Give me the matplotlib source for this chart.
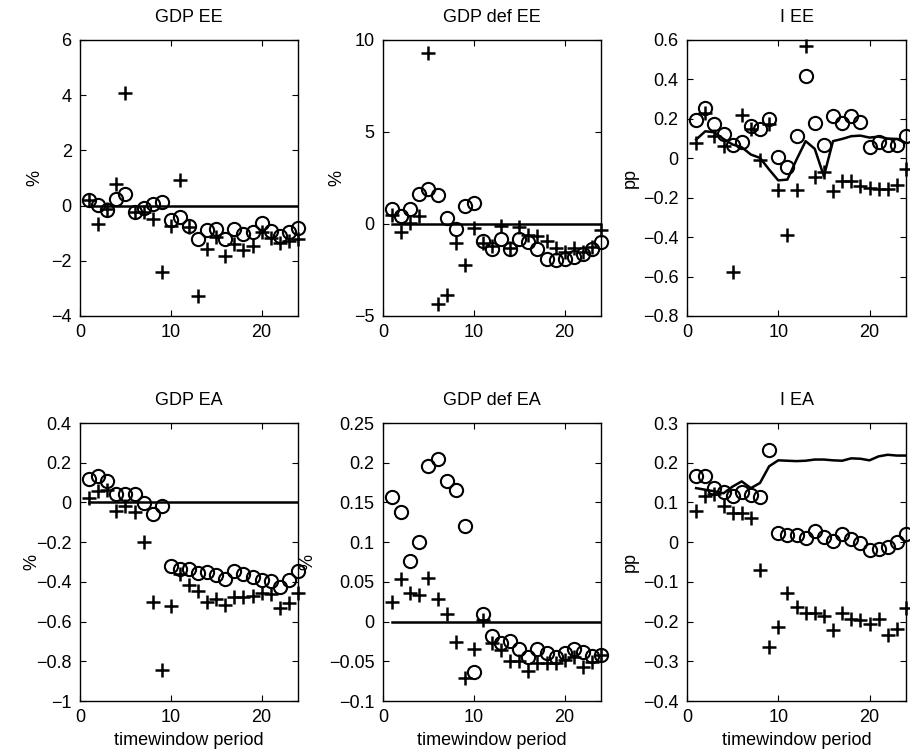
import numpy as np
import matplotlib
matplotlib.use("Agg")
import matplotlib.pyplot as plt
from matplotlib.ticker import FuncFormatter

plt.rcParams['font.family'] = ['Liberation Sans', 'DejaVu Sans']

periods = np.arange(1, 25)

# ---- GDP EE ----
gdp_ee_circ = [0.20, 0.02, -0.15, 0.23, 0.41, -0.22, -0.10, 0.06, 0.14, -0.52, -0.42, -0.74,
               -1.21, -0.90, -0.86, -1.21, -0.86, -1.04, -0.94, -0.64, -0.92, -1.10, -0.97, -0.82]
gdp_ee_plus = [0.20, -0.66, -0.13, 0.80, 4.07, -0.24, -0.22, -0.48, -2.39, -0.74, 0.93, -0.76,
               -3.27, -1.57, -1.12, -1.81, -1.40, -1.60, -1.45, -0.97, -1.18, -1.36, -1.27, -1.22]
gdp_ee_line = [0.0] * 24

# ---- GDP def EE ----
gdpdef_ee_circ = [0.80, 0.43, 0.80, 1.61, 1.90, 1.58, 0.31, -0.29, 1.00, 1.16, -0.92, -1.38,
                  -0.83, -1.38, -0.83, -1.00, -1.38, -1.90, -1.96, -1.90, -1.78, -1.63, -1.38, -1.00]
gdpdef_ee_plus = [0.49, -0.45, 0.07, 0.43, 9.31, -4.35, -3.86, -1.05, -2.23, -0.24, -1.01, -1.20,
                  -0.09, -1.32, -0.14, -0.60, -0.63, -0.92, -1.32, -1.54, -1.32, -1.54, -1.23, -0.33]
gdpdef_ee_line = [0.0] * 24

# ---- I EE ----
i_ee_circ = [0.193, 0.256, 0.176, 0.124, 0.066, 0.081, 0.166, 0.151, 0.197, 0.005, -0.046, 0.112,
             0.417, 0.180, 0.068, 0.214, 0.180, 0.217, 0.185, 0.056, 0.081, 0.066, 0.066, 0.112]
i_ee_plus = [0.075, 0.230, 0.112, 0.061, -0.578, 0.219, 0.151, -0.007, 0.176, -0.159, -0.388, -0.159,
             0.569, -0.097, -0.071, -0.168, -0.117, -0.114, -0.142, -0.151, -0.156, -0.156, -0.134, -0.053]
i_ee_line = [0.095, 0.137, 0.132, 0.098, 0.070, 0.056, 0.019, 0.002, -0.057, -0.112, -0.108, -0.007,
             0.087, 0.048, -0.091, 0.087, 0.098, 0.112, 0.115, 0.105, 0.110, 0.100, 0.098, 0.078]

# ---- GDP EA ----
gdp_ea_circ = [0.118, 0.131, 0.106, 0.042, 0.042, 0.042, -0.003, -0.059, -0.017, -0.318, -0.334, -0.336,
               -0.356, -0.351, -0.365, -0.385, -0.343, -0.361, -0.378, -0.393, -0.398, -0.424, -0.390, -0.343]
gdp_ea_plus = [0.022, 0.060, 0.064, -0.045, -0.020, -0.049, -0.197, -0.499, -0.844, -0.524, -0.361, -0.415,
               -0.445, -0.503, -0.486, -0.516, -0.477, -0.474, -0.471, -0.457, -0.462, -0.533, -0.504, -0.457]
gdp_ea_line = [0.0] * 24

# ---- GDP def EA ----
gdpdef_ea_circ = [0.157, 0.138, 0.076, 0.100, 0.196, 0.205, 0.177, 0.166, 0.120, -0.064, 0.010, -0.018,
                  -0.027, -0.024, -0.035, -0.045, -0.035, -0.039, -0.045, -0.040, -0.035, -0.038, -0.043, -0.042]
gdpdef_ea_plus = [0.025, 0.053, 0.036, 0.034, 0.055, 0.029, 0.009, -0.026, -0.071, -0.034, 0.002, -0.027,
                  -0.036, -0.050, -0.050, -0.062, -0.052, -0.052, -0.052, -0.048, -0.045, -0.057, -0.051, -0.042]
gdpdef_ea_line = [0.0] * 24

# ---- I EA ----
i_ea_circ = [0.166, 0.166, 0.136, 0.126, 0.115, 0.126, 0.119, 0.113, 0.231, 0.023, 0.017, 0.017,
             0.010, 0.029, 0.012, 0.003, 0.021, 0.008, -0.003, -0.019, -0.017, -0.011, 0.000, 0.021]
i_ea_plus = [0.079, 0.115, 0.121, 0.092, 0.073, 0.073, 0.061, -0.070, -0.265, -0.213, -0.129, -0.164,
             -0.179, -0.179, -0.186, -0.221, -0.179, -0.194, -0.196, -0.206, -0.194, -0.234, -0.218, -0.165]
i_ea_line = [0.136, 0.132, 0.128, 0.123, 0.140, 0.153, 0.136, 0.149, 0.191, 0.206, 0.205, 0.204,
             0.205, 0.208, 0.208, 0.206, 0.205, 0.211, 0.210, 0.206, 0.216, 0.220, 0.218, 0.218]

panels = [
    ("GDP EE", "%", gdp_ee_circ, gdp_ee_plus, gdp_ee_line, (-4, 6), np.arange(-4, 6.01, 2)),
    ("GDP def EE", "%", gdpdef_ee_circ, gdpdef_ee_plus, gdpdef_ee_line, (-5, 10), np.arange(-5, 10.01, 5)),
    ("I EE", "pp", i_ee_circ, i_ee_plus, i_ee_line, (-0.8, 0.6), np.arange(-0.8, 0.601, 0.2)),
    ("GDP EA", "%", gdp_ea_circ, gdp_ea_plus, gdp_ea_line, (-1, 0.4), np.arange(-1, 0.401, 0.2)),
    ("GDP def EA", "%", gdpdef_ea_circ, gdpdef_ea_plus, gdpdef_ea_line, (-0.1, 0.25), np.arange(-0.1, 0.2501, 0.05)),
    ("I EA", "pp", i_ea_circ, i_ea_plus, i_ea_line, (-0.4, 0.3), np.arange(-0.4, 0.301, 0.1)),
]

W, H = 910, 753
fig = plt.figure(figsize=(W / 100, H / 100), dpi=100)
fig.patch.set_facecolor("white")

lefts = [80, 383, 687]
widths = [218, 218, 219]
row_top = [(40, 316), (423, 701)]
ylabel_x = [-0.17, -0.174, -0.22, -0.18, -0.307, -0.22]


def fmt(v, pos):
    s = "%g" % round(v, 6)
    if s == "-0":
        s = "0"
    return s.replace("-", "\u2212")


fs = 13
for i, (title, ylab, circ, plus, line, ylim, yticks) in enumerate(panels):
    r, c = divmod(i, 3)
    top, bot = row_top[r]
    ax = fig.add_axes([lefts[c] / W, (H - bot) / H, widths[c] / W, (bot - top) / H])
    ax.plot(periods, line, color="black", lw=1.8, zorder=2)
    ax.plot(periods, plus, linestyle="none", marker="+", ms=9.5, mew=1.8,
            color="black", clip_on=False, zorder=3)
    ax.plot(periods, circ, linestyle="none", marker="o", ms=9.5, mew=1.5,
            mfc="none", mec="black", clip_on=False, zorder=4)
    ax.set_xlim(0, 24)
    ax.set_ylim(*ylim)
    ax.set_xticks([0, 10, 20])
    ax.set_yticks(yticks)
    ax.yaxis.set_major_formatter(FuncFormatter(fmt))
    ax.tick_params(direction="in", length=4, width=0.8, top=True, right=True,
                   labelsize=fs, pad=6, colors="black")
    for sp in ax.spines.values():
        sp.set_linewidth(1.0)
        sp.set_color("black")
    ax.set_title(title, fontsize=fs, pad=13)
    ax.set_ylabel(ylab, fontsize=fs)
    ax.yaxis.set_label_coords(ylabel_x[i], 0.5)
    if r == 1:
        ax.set_xlabel("timewindow period", fontsize=fs, labelpad=4)

fig.savefig("out.png", dpi=100, facecolor="white")
